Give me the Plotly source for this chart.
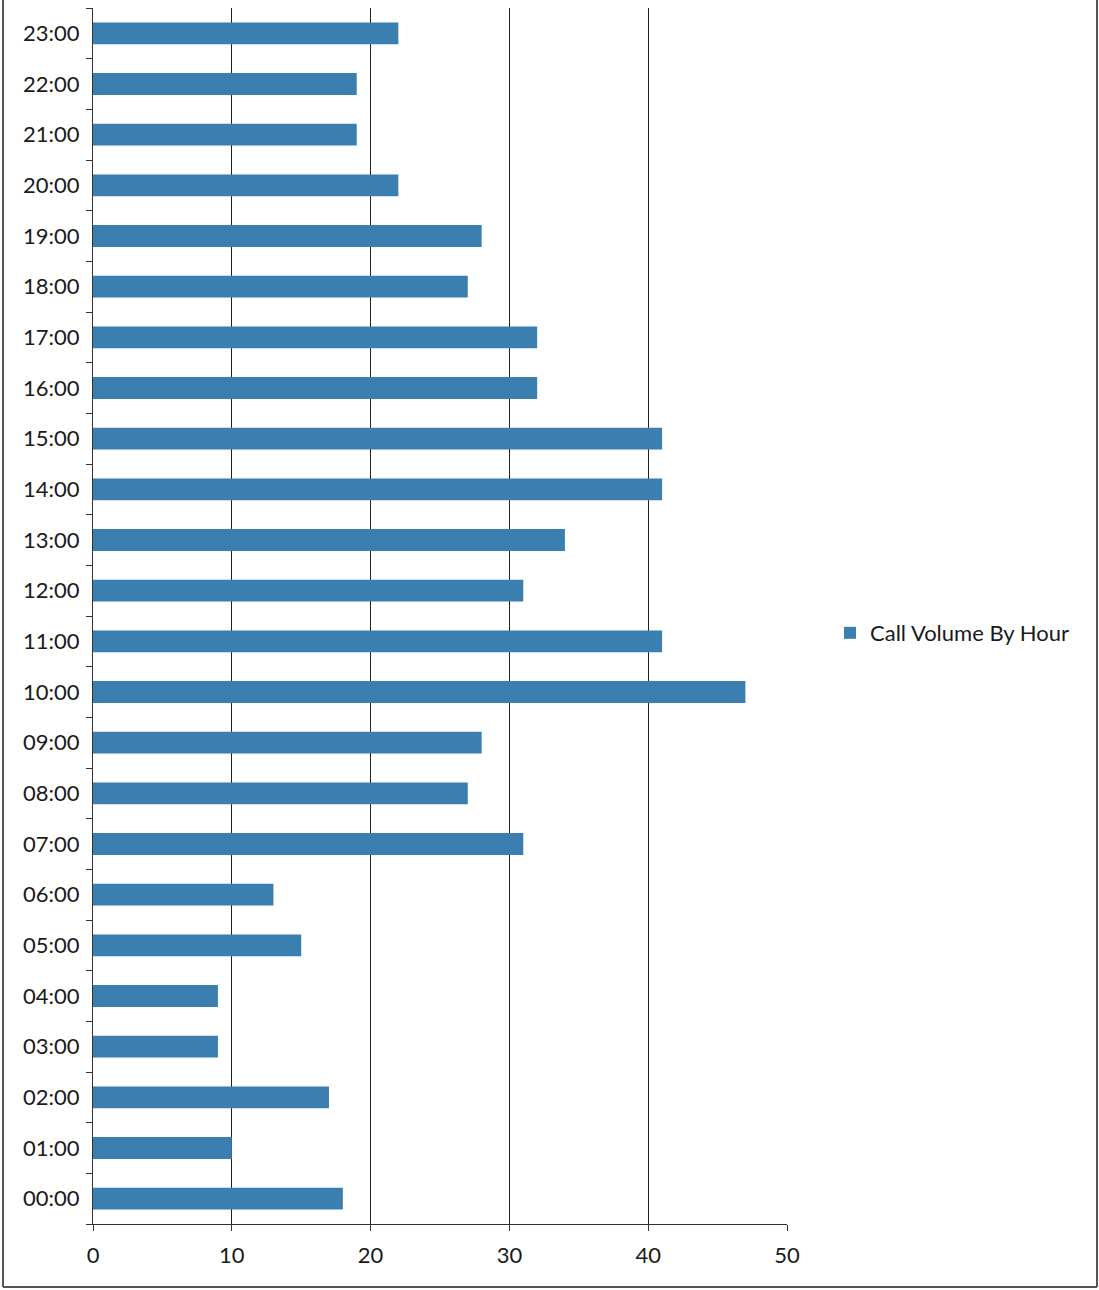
import plotly.graph_objects as go

hours = [f"{h:02d}:00" for h in range(24)]
calls = [18, 10, 17, 9, 9, 15, 13, 31, 27, 28, 47, 41, 31, 34, 41, 41, 32, 32, 27, 28, 22, 19, 19, 22]
series_name = "Call Volume By Hour"
x_ticks = [0, 10, 20, 30, 40, 50]

fig = go.Figure()
fig.add_trace(go.Bar(
    y=hours, x=calls, orientation="h", name=series_name,
    marker=dict(color="#3a7fb0", line=dict(width=0)),
    showlegend=True,
))

font = dict(family="Lato, Open Sans, sans-serif", size=22, color="#1a1a1a")
W, H = 1099, 1290
L, R, T, B = 93, 312, 8, 66
pw, ph = W - L - R, H - T - B
fig.update_layout(
    width=W, height=H,
    margin=dict(l=L, r=R, t=T, b=B),
    paper_bgcolor="white", plot_bgcolor="white",
    bargap=0.57,
    font=font,
    showlegend=True,
    legend=dict(x=1.062, y=0.486, xanchor="left", yanchor="middle",
                font=font, itemwidth=30),
    xaxis=dict(range=[0, 50], tickvals=x_ticks, showgrid=True, gridcolor="#222222", gridwidth=1,
               zeroline=False, showline=True, linecolor="#333333", linewidth=1,
               ticks="outside", ticklen=6, tickcolor="#333333", tickfont=font, ticklabelstandoff=6),
    yaxis=dict(categoryorder="array", categoryarray=hours, showgrid=False, zeroline=False,
               showline=True, linecolor="#333333", linewidth=1,
               ticks="outside", ticklen=6, tickcolor="#333333", tickson="boundaries",
               tickfont=font, ticklabelstandoff=8),
    shapes=[
        dict(type="line", xref="paper", yref="paper", x0=(3 - L) / pw, x1=(3 - L) / pw,
             y0=-(B - 3) / ph, y1=(H - T) / ph, line=dict(color="#555555", width=2)),
        dict(type="line", xref="paper", yref="paper", x0=(W - 2 - L) / pw, x1=(W - 2 - L) / pw,
             y0=-(B - 3) / ph, y1=(H - T) / ph, line=dict(color="#555555", width=2)),
        dict(type="line", xref="paper", yref="paper", x0=(3 - L) / pw, x1=(W - 2 - L) / pw,
             y0=-(B - 3) / ph, y1=-(B - 3) / ph, line=dict(color="#555555", width=2)),
    ],
)

fig.write_html("out.html")
